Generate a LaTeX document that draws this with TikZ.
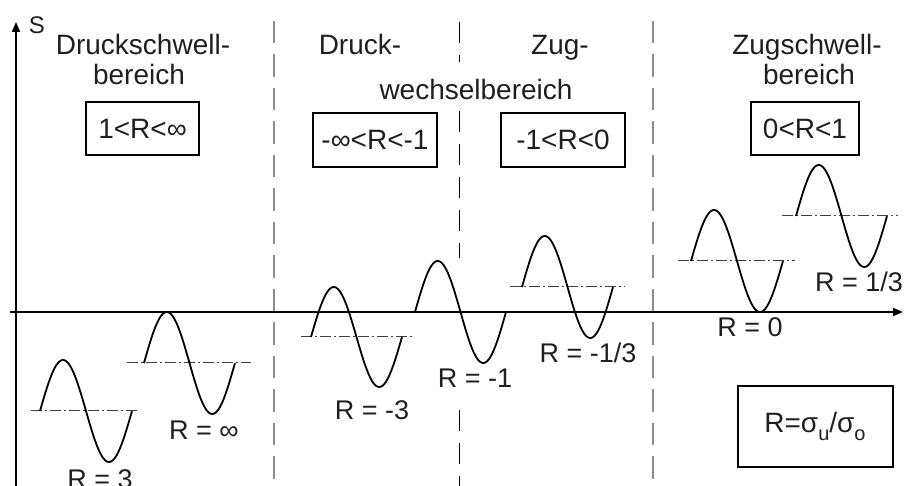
\documentclass[tikz,border=0pt]{standalone}
\usepackage{fontspec}
\setmainfont{Liberation Sans}
\usetikzlibrary{arrows.meta}
\newcommand\lowsub[1]{\raisebox{-8pt}{\fontsize{20}{20}\selectfont #1}}
\begin{document}
\begin{tikzpicture}[x=1pt,y=-1pt,
  txt/.style={inner sep=0pt, anchor=base, text=black!88, font=\fontsize{28}{32}\selectfont},
  lbl/.style={inner sep=0pt, anchor=base, text=black!88, font=\fontsize{27}{30}\selectfont},
  rbox/.style={draw, line width=1.1pt, inner sep=0pt, text height=20pt, text depth=0pt, text=black!88, font=\fontsize{28}{32}\selectfont},
  axis/.style={line width=1.8pt, -{Triangle[length=10pt,width=8pt]}},
  wave/.style={line width=1.8pt},
  meanline/.style={line width=1pt, black!75, dash pattern=on 11pt off 3pt on 2pt off 3pt},
  sep/.style={line width=2pt, black!45, dash pattern=on 22.5pt off 11pt},
  mid/.style={line width=1pt, dash pattern=on 21pt off 12pt}]
\useasboundingbox (0,0) rectangle (906,486);
\clip (0,0) rectangle (906,486);

% separators
\coordinate (s1t) at (274,21); \coordinate (s1b) at (274,486);
\coordinate (s2t) at (653,21); \coordinate (s2b) at (653,486);
\draw[sep] (s1t) -- (s1b);
\draw[sep] (s2t) -- (s2b);
\coordinate (m1) at (459,22); \coordinate (m2) at (459,62);
\coordinate (m3) at (459,111); \coordinate (m4) at (459,258);
\coordinate (m5) at (459,410); \coordinate (m6) at (459,486);
\draw[mid] (m1) -- (m2);
\draw[mid] (m3) -- (m4);
\draw[mid] (m5) -- (m6);

% axes
\coordinate (yb) at (16,486); \coordinate (yt) at (16,22);
\coordinate (xl) at (10,312); \coordinate (xr) at (903,312);
\draw[axis] (yb) -- (yt);
\draw[axis] (xl) -- (xr);
\node[inner sep=0pt, anchor=base, text=black!88, font=\fontsize{24}{26}\selectfont] (S) at (37,34) {S};

% headings
\node[txt] (h1a) at (143,55) {Druckschwell-};
\node[txt] (h1b) at (139,85) {bereich};
\node[txt] (h2a) at (360,55) {Druck-};
\node[txt] (h3a) at (560,55) {Zug-};
\node[txt] (h2b) at (476,100) {wechselbereich};
\node[txt] (h4a) at (807,55) {Zugschwell-};
\node[txt] (h4b) at (809,85) {bereich};

% range boxes
\node[rbox, minimum width=113pt, minimum height=53pt] (b1) at (142.5,128.5) {1<R<∞};
\node[rbox, minimum width=124pt, minimum height=54pt] (b2) at (375,140) {-∞<R<-1};
\node[rbox, minimum width=124pt, minimum height=54pt] (b3) at (563,140) {-1<R<0};
\node[rbox, minimum width=108pt, minimum height=53pt] (b4) at (805,128.5) {0<R<1};
\node[draw, line width=1.1pt, minimum width=155pt, minimum height=81pt] (b5) at (815.5,426.5) {};
\node[txt] (b5t) at (815,433) {R=σ\lowsub{u}/σ\lowsub{o}};

% mean lines
\coordinate (a1) at (31,411);  \coordinate (a2) at (138,411);
\coordinate (c1) at (127,363); \coordinate (c2) at (251,363);
\coordinate (d1) at (301,337); \coordinate (d2) at (413,337);
\coordinate (e1) at (510,287); \coordinate (e2) at (625,287);
\coordinate (f1) at (678,261); \coordinate (f2) at (795,261);
\coordinate (g1) at (782,216); \coordinate (g2) at (898,216);
\draw[meanline] (a1) -- (a2);
\draw[meanline] (c1) -- (c2);
\draw[meanline] (d1) -- (d2);
\draw[meanline] (e1) -- (e2);
\draw[meanline] (f1) -- (f2);
\draw[meanline] (g1) -- (g2);

% waves
\draw[wave] plot[domain=0:1,samples=90,smooth,variable=\t] ({40+92*\t},{411-51*sin(360*\t)});
\draw[wave] plot[domain=0:1,samples=90,smooth,variable=\t] ({144+91*\t},{363-51*sin(360*\t)});
\draw[wave] plot[domain=0:1,samples=90,smooth,variable=\t] ({311+91*\t},{337-50*sin(360*\t)});
\draw[wave] plot[domain=0:1,samples=90,smooth,variable=\t] ({415+91*\t},{312-51*sin(360*\t)});
\draw[wave] plot[domain=0:1,samples=90,smooth,variable=\t] ({522+91*\t},{287-51*sin(360*\t)});
\draw[wave] plot[domain=0:1,samples=90,smooth,variable=\t] ({691+92*\t},{261-51*sin(360*\t)});
\draw[wave] plot[domain=0:1,samples=90,smooth,variable=\t] ({796+91*\t},{216-51*sin(360*\t)});

% labels
\node[lbl] (l1) at (100,489) {R = 3};
\node[lbl] (l2) at (204,440) {R = ∞};
\node[lbl] (l3) at (372,420) {R = -3};
\node[lbl] (l4) at (475,388) {R = -1};
\node[lbl] (l5) at (588,363) {R = -1/3};
\node[lbl] (l6) at (750,337) {R = 0};
\node[lbl] (l7) at (859,292) {R = 1/3};
\end{tikzpicture}
\end{document}
